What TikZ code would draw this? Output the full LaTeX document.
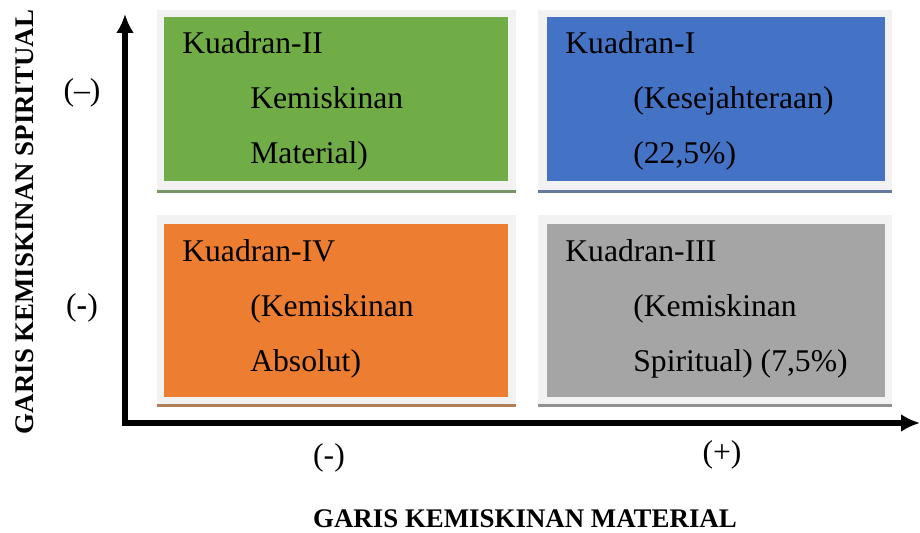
\documentclass[tikz,border=0pt]{standalone}
\usepackage{fontspec}
\setmainfont{Liberation Serif}
\usetikzlibrary{arrows.meta}
\definecolor{quadgreen}{RGB}{112,173,71}
\definecolor{quadblue}{RGB}{68,114,196}
\definecolor{quadorange}{RGB}{237,125,49}
\definecolor{quadgray}{RGB}{165,165,165}
\definecolor{framegray}{RGB}{242,242,242}
\tikzset{
  axisline/.style  = {line width=3.1pt, line join=miter,
                      {Latex[length=10.8pt,width=10.2pt]}-{Latex[length=10.8pt,width=10.2pt]}},
  quadtext/.style  = {anchor=base west, inner sep=0pt, font=\fontsize{18pt}{18pt}\selectfont},
  signtext/.style  = {anchor=base, inner sep=0pt, font=\fontsize{18pt}{18pt}\selectfont},
  titletext/.style = {anchor=base, inner sep=0pt, font=\fontsize{15.3pt}{15.3pt}\selectfont\bfseries},
}
\begin{document}
\begin{tikzpicture}[x=0.02cm, y=-0.02cm]
        \useasboundingbox (0,0) rectangle (920,533);
        \coordinate (origin) at (125,423);
        \coordinate (ytip)   at (125,14);
        \coordinate (xtip)   at (920,423);
        % kotak kuadran
        \fill[framegray]  (157,10)  rectangle (516,190);
        \fill[quadgreen]  (164,17)  rectangle (508,181);
        \draw[quadgreen!45!gray, line width=1.5pt]  (157,191.3) -- (516,191.3);
        \fill[framegray]  (538,10)  rectangle (892,190);
        \fill[quadblue]   (547,17)  rectangle (885,181);
        \draw[quadblue!45!gray, line width=1.5pt]   (538,191.3) -- (892,191.3);
        \fill[framegray]  (157,215) rectangle (516,404);
        \fill[quadorange] (164,224) rectangle (508,397);
        \draw[quadorange!45!gray, line width=1.5pt] (157,405.3) -- (516,405.3);
        \fill[framegray]  (538,215) rectangle (892,404);
        \fill[quadgray]   (547,224) rectangle (885,397);
        \draw[quadgray!45!gray, line width=1.5pt]   (538,405.3) -- (892,405.3);
        % sumbu
        \draw[axisline] (ytip) -- (origin) -- (xtip);
        % teks kuadran
        \node[quadtext] (q2a) at (182,54)  {Kuadran-II};
        \node[quadtext] (q2b) at (250,109) {Kemiskinan};
        \node[quadtext] (q2c) at (250,164) {Material)};
        \node[quadtext] (q1a) at (565,54)  {Kuadran-I};
        \node[quadtext] (q1b) at (633,109) {(Kesejahteraan)};
        \node[quadtext] (q1c) at (633,164) {(22,5\%)};
        \node[quadtext] (q4a) at (182,262) {Kuadran-IV};
        \node[quadtext] (q4b) at (250,317) {(Kemiskinan};
        \node[quadtext] (q4c) at (250,372) {Absolut)};
        \node[quadtext] (q3a) at (565,262) {Kuadran-III};
        \node[quadtext] (q3b) at (633,317) {(Kemiskinan};
        \node[quadtext] (q3c) at (633,372) {Spiritual) (7,5\%)};
        % tanda
        \node[signtext] (ypos) at (82,101)  {(--)};
        \node[signtext] (yneg) at (82,316)  {(\textbf{-})};
        \node[signtext] (xneg) at (329,466) {(-)};
        \node[signtext] (xpos) at (722,463) {(+)};
        % judul sumbu
        \node[titletext] (xtitle) at (525,527) {GARIS KEMISKINAN MATERIAL};
        \node[titletext, rotate=90] (ytitle) at (33,222) {GARIS KEMISKINAN SPIRITUAL};
\end{tikzpicture}
\end{document}
